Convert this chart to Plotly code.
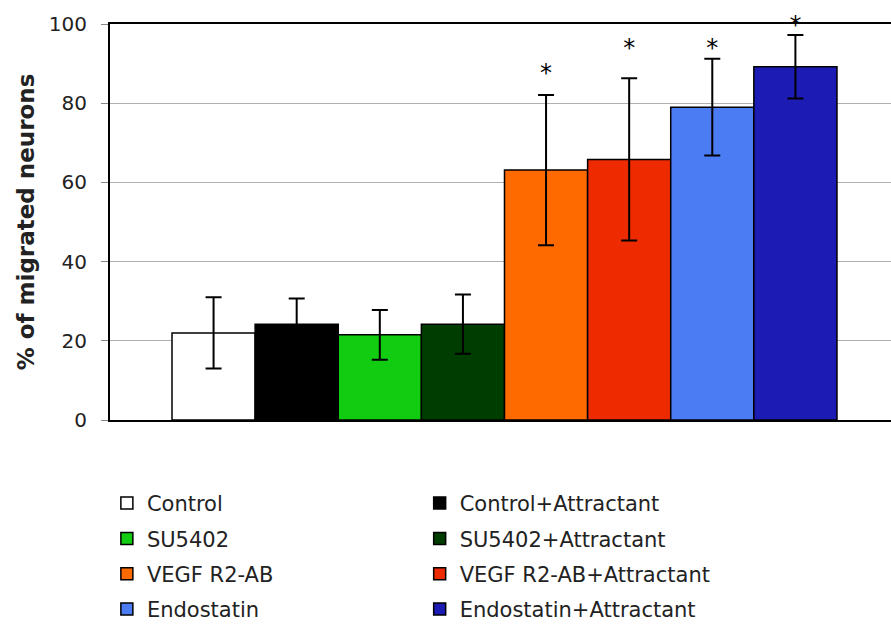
import plotly.graph_objects as go

categories = ["Control", "Control+Attractant", "SU5402", "SU5402+Attractant",
              "VEGF R2-AB", "VEGF R2-AB+Attractant", "Endostatin", "Endostatin+Attractant"]
values = [22.0, 24.2, 21.5, 24.2, 63.1, 65.8, 79.0, 89.2]
errors = [9.0, 6.5, 6.3, 7.5, 19.0, 20.5, 12.2, 8.0]
colors = ["#ffffff", "#000000", "#11cc11", "#003d00",
          "#ff6a00", "#ee2a00", "#4c7cf4", "#1c1cb4"]
star_idx = [4, 5, 6, 7]
star_y = [87.2, 93.5, 93.5, 99.2]
y_ticks = [0, 20, 40, 60, 80, 100]

FONT = "DejaVu Sans, Verdana, sans-serif"
fig = go.Figure()
for i, (name, v, e, c) in enumerate(zip(categories, values, errors, colors)):
    fig.add_trace(go.Bar(
        x=[i], y=[v], name=name, width=1,
        marker=dict(color=c, line=dict(color="#000000", width=1.5)),
        error_y=dict(type="data", array=[e], visible=True, color="#000000",
                     thickness=2, width=8),
        legend="legend" if i % 2 == 0 else "legend2",
        legendgroup=name,
    ))

fig.add_trace(go.Scatter(
    x=star_idx, y=star_y, mode="text", text=["*"] * len(star_idx),
    textposition="middle center", cliponaxis=False, showlegend=False,
    textfont=dict(size=24, color="#000000", family=FONT), hoverinfo="skip",
))

legend_common = dict(
    font=dict(size=21, color="#222222", family=FONT),
    bgcolor="rgba(0,0,0,0)", traceorder="grouped", tracegroupgap=5,
    xanchor="left", yanchor="top", orientation="v",
)
fig.update_layout(
    width=891, height=624,
    margin=dict(l=110, r=0, t=24, b=204, autoexpand=False),
    paper_bgcolor="#ffffff", plot_bgcolor="#ffffff",
    barmode="overlay",
    showlegend=True,
    legend=dict(x=-0.004, y=-0.159, **legend_common),
    legend2=dict(x=0.3965, y=-0.159, **legend_common),
    font=dict(family=FONT, color="#222222"),
)
fig.update_xaxes(range=[-1.246, 8.15], showticklabels=False, ticks="",
                 showgrid=False, zeroline=False, showline=True,
                 linecolor="#000000", linewidth=2, mirror=True)
fig.update_yaxes(range=[0, 100], tickvals=y_ticks, ticks="outside", ticklen=7,
                 tickcolor="#888888", tickfont=dict(size=20, color="#222222"),
                 ticklabelstandoff=10,
                 showgrid=True, gridcolor="#b0b0b0", gridwidth=1,
                 zeroline=False, showline=True, linecolor="#000000", linewidth=2,
                 title=dict(text="<b>% of migrated neurons</b>",
                            font=dict(size=23, color="#222222"), standoff=8))

fig.write_html("out.html", config={"displayModeBar": False},
               post_script="document.body.style.margin='0px';")
